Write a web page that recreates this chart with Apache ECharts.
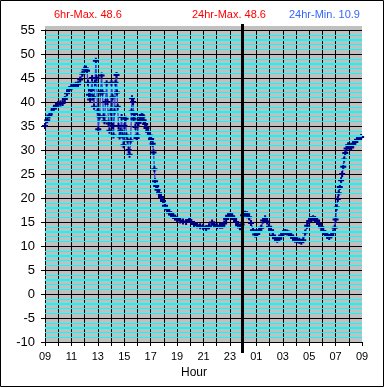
<!DOCTYPE html>
<html><head><meta charset="utf-8">
<script src="https://cdn.jsdelivr.net/npm/echarts@6/dist/echarts.min.js"></script>
<style>html,body{margin:0;padding:0;background:#fff}#c{width:385px;height:388px}</style>
</head><body><div id="c"></div>
<script>
// minutes after 09:00
const times = [0,10,20,30,40,50,60,70,80,90,100,110,120,130,140,150,160,170,180,
186,191,195,200,205,209,214,218,223,227,231,234,239,242,248,252,257,261,266,270,275,280,284,289,293,298,302,307,309,311,316,320,325,327,330,334,339,343,348,352,357,361,366,370,375,380,384,389,393,395,400,402,407,411,416,420,425,430,434,439,443,448,455,461,468,475,482,489,493,497,500,505,511,518,527,536,545,555,564,573,582,591,600,614,627,641,655,664,677,691,705,718,732,745,759,768,782,795,805,814,823,832,841,850,859,868,877,886,893,900,909,918,927,936,945,955,964,973,982,991,1000,1009,1018,1027,1036,1045,1055,1064,1073,1082,1091,1100,1109,1118,1127,1136,1145,1155,1164,1173,1182,1191,1200,1209,1218,1227,1236,1245,1255,1264,1273,1282,1291,1300,1309,1316,1320,1325,1330,1334,1339,1345,1350,1355,1359,1364,1370,1377,1384,1391,1400,1409,1418,1427,1436];
const temps = [35.0,36.2,37.2,37.9,38.6,39.2,39.6,39.7,39.8,40.6,41.8,42.6,43.1,43.4,43.6,43.7,44.7,45.9,46.8,
47.0,46.5,44.0,41.5,40.5,42.5,45.0,41.0,39.0,44.0,48.6,45.0,38.0,34.3,37.0,42.0,45.5,42.0,37.0,36.0,40.0,43.9,40.0,35.5,34.0,38.0,44.0,41.0,35.0,33.0,38.0,44.0,45.6,42.0,39.0,35.0,32.8,34.0,36.9,33.0,31.0,35.0,36.5,33.0,32.0,30.0,29.0,32.0,38.0,40.8,40.0,36.5,37.5,34.8,32.5,33.0,35.6,36.3,36.9,37.3,37.0,36.2,35.4,34.6,33.8,33.0,32.3,31.3,29.5,26.0,23.5,22.5,21.7,21.0,20.2,19.4,18.4,17.6,17.0,16.6,16.3,15.9,15.6,15.3,15.1,15.0,15.4,15.0,14.6,14.3,14.1,14.0,13.7,14.1,14.9,14.5,14.1,14.2,14.2,14.7,15.6,16.3,16.5,16.2,15.6,15.0,14.3,13.9,14.5,16.4,16.7,16.6,16.0,14.8,13.3,12.4,12.5,13.3,13.8,15.3,15.8,15.1,14.0,13.3,12.2,11.6,11.3,11.5,12.2,12.7,12.9,12.8,12.6,12.2,11.7,11.3,11.2,11.1,10.9,11.2,12.8,14.2,15.2,15.6,15.8,15.6,15.3,14.6,13.9,13.1,12.5,12.1,11.9,12.2,12.8,13.8,15.5,18.0,19.8,21.0,22.3,23.7,25.0,26.5,28.0,29.4,30.3,31.0,30.6,30.5,31.3,31.7,32.1,32.5,32.7];
const xTickLabels = ['09','11','13','15','17','19','21','23','01','03','05','07','09'];
const xAxisName = 'Hour';
const headerTexts = ['6hr-Max. 48.6','24hr-Max. 48.6','24hr-Min. 10.9'];
const headerColors = ['#ff0000','#ff0000','#3366ff'];
const headerLeft = [54, 192, 289];
const yMin = -10, yMax = 55, yStep = 5;
const xMin = 0, xMax = 1440, xStep = 60;
const midnightMinute = 900;

const FONT = '"Liberation Sans", Arial, sans-serif';
const chart = echarts.init(document.getElementById('c'), null, {renderer: 'canvas'});
const plusPath = 'path://M2,0H4V2H6V4H4V6H2V4H0V2H2Z';
const seriesData = times.map((t, i) => [t, temps[i]]);
// minor (1-unit) grid lines between the major 5-unit lines
const thinMinor = [], thickMinor = [];
for (let v = yMin + 1; v < yMax; v += 1) {
  const r = ((v - yMin) % yStep + yStep) % yStep;
  if (r === 0) continue;
  if (r === 3) thickMinor.push({yAxis: v}); else thinMinor.push({yAxis: v});
}

const titles = headerTexts.map((t, i) => ({
  text: t, left: headerLeft[i], top: 9, padding: 0,
  textStyle: {color: headerColors[i], fontSize: 11, fontWeight: 'normal', fontFamily: FONT}
}));
titles.push({text: xAxisName, left: 181, top: 367, padding: 0,
  textStyle: {color: '#000', fontSize: 12, fontWeight: 'normal', fontFamily: FONT}});

const gridLineSeries = (list, color, width) => ({
  type: 'line', data: [], z: 1, silent: true,
  markLine: {silent: true, symbol: 'none', label: {show: false}, animation: false,
    lineStyle: {color: color, width: width, type: 'solid', opacity: 1}, emphasis: {disabled: true}, data: list}
});

chart.setOption({
  animation: false,
  backgroundColor: '#fff',
  title: titles,
  grid: {left: 45, right: 23, top: 30, bottom: 46, show: true, backgroundColor: '#c0c0c0', borderWidth: 0},
  xAxis: {
    type: 'value', min: xMin, max: xMax, interval: xStep, z: 2,
    axisLine: {show: true, onZero: false, lineStyle: {color: '#000', width: 1}},
    axisTick: {show: true, length: 4, lineStyle: {color: '#000'}},
    axisLabel: {color: '#000', fontSize: 11, fontFamily: FONT, margin: 9,
      formatter: v => (v % 120 === 0 ? xTickLabels[v / 120] : '')},
    splitLine: {show: true, showMaxLine: false, lineStyle: {color: '#000', width: 1}}
  },
  yAxis: {
    type: 'value', min: yMin, max: yMax, interval: yStep,
    axisLine: {show: true, lineStyle: {color: '#000', width: 1}},
    axisTick: {show: true, length: 4, lineStyle: {color: '#000'}},
    axisLabel: {color: '#000', fontSize: 13, fontFamily: FONT, margin: 10},
    splitLine: {show: true, lineStyle: {color: '#000', width: 1}}
  },
  series: [
    gridLineSeries(thinMinor, '#00ffff', 1.2),
    gridLineSeries(thickMinor, '#00ffff', 2),
    {type: 'line', data: seriesData, z: 3, symbol: plusPath, symbolSize: 6, showSymbol: true,
     itemStyle: {color: '#000080'}, lineStyle: {color: '#2a40d0', width: 1.2}, sampling: null}
  ]
});

const xL = chart.convertToPixel({xAxisIndex: 0}, xMin);
const xR = chart.convertToPixel({xAxisIndex: 0}, xMax);
const yT = chart.convertToPixel({yAxisIndex: 0}, yMax);
const yB = chart.convertToPixel({yAxisIndex: 0}, yMin);
const xM = Math.round(chart.convertToPixel({xAxisIndex: 0}, midnightMinute)) - 0.5;
chart.setOption({
  graphic: {
    elements: [
      {type: 'rect', z: 0, shape: {x: xL, y: yT - 4, width: xR - xL, height: 4}, style: {fill: '#c0c0c0'}},
      {type: 'line', z: 100, shape: {x1: xM, y1: yT - 6, x2: xM, y2: yB + 11}, style: {stroke: '#000', lineWidth: 3}},
      {type: 'rect', z: 100, shape: {x: 0.5, y: 0.5, width: 383, height: 386}, style: {fill: null, stroke: '#000', lineWidth: 1}}
    ]
  }
});
</script></body></html>
